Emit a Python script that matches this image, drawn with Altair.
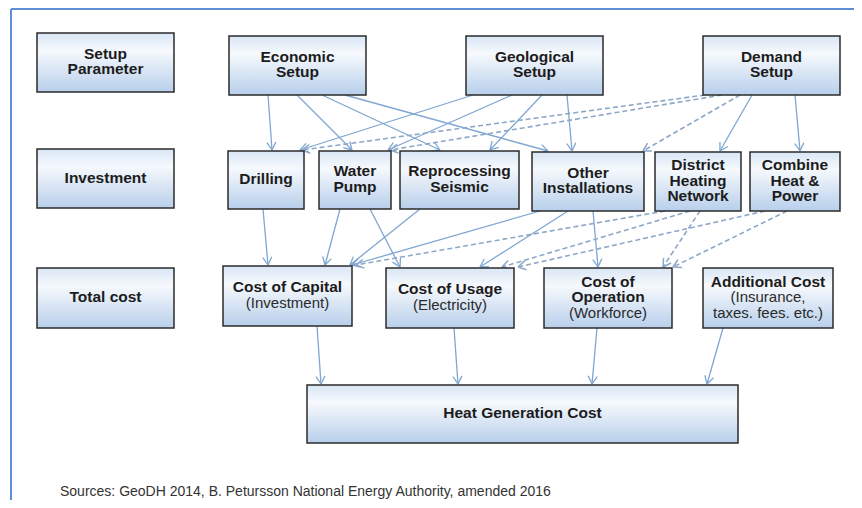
import math
import altair as alt
import pandas as pd

# ---------------- nodes ----------------
node_id = ["setup_param", "econ", "geo", "demand",
           "investment", "drilling", "pump", "seismic", "other", "dhn", "chp",
           "total", "capital", "usage", "operation", "additional",
           "heat"]
node_title = ["Setup|Parameter", "Economic|Setup", "Geological|Setup", "Demand|Setup",
              "Investment", "Drilling", "Water|Pump", "Reprocessing|Seismic",
              "Other|Installations", "District|Heating|Network", "Combine|Heat &|Power",
              "Total cost", "Cost of Capital", "Cost of Usage", "Cost of|Operation",
              "Additional Cost", "Heat Generation Cost"]
node_sub = ["", "", "", "",
            "", "", "", "", "", "", "",
            "", "(Investment)", "(Electricity)", "(Workforce)",
            "(Insurance,|taxes. fees. etc.)", ""]
# layout of the boxes (page pixel grid)
node_x0 = [37, 229, 466, 703, 37, 228, 319, 400, 532, 655, 750, 37, 223, 386, 544, 703, 307]
node_x1 = [174, 366, 603, 840, 174, 304, 391, 519, 644, 741, 840, 174, 352, 514, 672, 833, 738]
node_y0 = [33, 36, 36, 36, 149, 151, 151, 151, 152, 152, 152, 268, 266, 268, 268, 268, 385]
node_y1 = [92, 95, 95, 95, 208, 209, 209, 209, 211, 211, 211, 328, 326, 328, 328, 328, 443]

# ---------------- edges ----------------
edge_src = ["econ", "econ", "econ", "econ",
            "geo", "geo", "geo", "geo",
            "demand", "demand", "demand", "demand", "demand",
            "drilling", "pump", "pump", "seismic",
            "other", "other", "other",
            "dhn", "dhn", "chp", "dhn", "chp",
            "capital", "usage", "operation", "additional"]
edge_dst = ["drilling", "pump", "seismic", "other",
            "drilling", "pump", "seismic", "other",
            "drilling", "pump", "other", "dhn", "chp",
            "capital", "capital", "usage", "capital",
            "capital", "usage", "operation",
            "capital", "usage", "usage", "operation", "operation",
            "heat", "heat", "heat", "heat"]
edge_kind = ["solid", "solid", "solid", "solid",
             "solid", "solid", "solid", "solid",
             "dashed", "dashed", "dashed", "solid", "solid",
             "solid", "solid", "solid", "solid",
             "solid", "solid", "solid",
             "dashed", "dashed", "dashed", "dashed", "dashed",
             "solid", "solid", "solid", "solid"]
# x where the edge leaves the source box / reaches the target box
edge_sx = [268, 297, 322, 345,
           473, 512, 542, 567,
           705, 722, 740, 752, 795,
           263, 340, 370, 420,
           540, 568, 593,
           665, 690, 765, 700, 787,
           317, 454, 597, 723]
edge_tx = [272, 352, 440, 548,
           300, 388, 490, 572,
           302, 390, 643, 720, 800,
           268, 325, 400, 350,
           352, 480, 598,
           356, 502, 518, 663, 673,
           321, 458, 592, 707]

source_text = "Sources: GeoDH 2014, B. Petursson National Energy Authority, amended 2016"

FONT = "Liberation Sans, Arial, sans-serif"
SOLID_C = "#7fa6d2"
DASH_C = "#8ea8c8"

# ---------------- build tables ----------------
idx = {n: i for i, n in enumerate(node_id)}
boxes = pd.DataFrame({"id": node_id, "x0": node_x0, "x1": node_x1,
                      "y0": node_y0, "y1": node_y1})

lines = []
for i, n in enumerate(node_id):
    t = node_title[i].split("|")
    s = node_sub[i].split("|") if node_sub[i] else []
    allines = [(l, "bold") for l in t] + [(l, "normal") for l in s]
    cy = (node_y0[i] + node_y1[i]) / 2 - 1
    k = len(allines)
    for j, (l, w) in enumerate(allines):
        lines.append({"x": (node_x0[i] + node_x1[i]) / 2,
                      "y": cy + (j - (k - 1) / 2) * 15.5,
                      "t": l, "w": w})
labels = pd.DataFrame(lines)

segs = []
L, TH = 9.0, math.radians(30)
for s, d, k, sx, tx in zip(edge_src, edge_dst, edge_kind, edge_sx, edge_tx):
    sy = node_y1[idx[s]]
    ty = node_y0[idx[d]] - 1
    segs.append({"x": sx, "y": sy, "x2": tx, "y2": ty, "kind": k, "part": "line"})
    dx, dy = tx - sx, ty - sy
    ln = math.hypot(dx, dy)
    ux, uy = -dx / ln, -dy / ln
    for sg in (1, -1):
        a = sg * TH
        wx = ux * math.cos(a) - uy * math.sin(a)
        wy = ux * math.sin(a) + uy * math.cos(a)
        segs.append({"x": tx, "y": ty, "x2": tx + L * wx, "y2": ty + L * wy,
                     "kind": k, "part": "head"})
seg = pd.DataFrame(segs)

X = alt.Scale(domain=[8, 854])
Y = alt.Scale(domain=[500, 8])
xq = lambda f: alt.X(f, type="quantitative", scale=X, axis=None)
yq = lambda f: alt.Y(f, type="quantitative", scale=Y, axis=None)

base_seg = alt.Chart(seg)
solid = base_seg.transform_filter("datum.kind == 'solid'").mark_rule(
    color=SOLID_C, strokeWidth=1.3).encode(
    x=xq("x"), y=yq("y"), x2="x2", y2="y2")
dashed = base_seg.transform_filter("datum.kind == 'dashed' && datum.part == 'line'").mark_rule(
    color=DASH_C, strokeWidth=1.6, strokeDash=[5, 3]).encode(
    x=xq("x"), y=yq("y"), x2="x2", y2="y2")
dheads = base_seg.transform_filter("datum.kind == 'dashed' && datum.part == 'head'").mark_rule(
    color=DASH_C, strokeWidth=1.5).encode(
    x=xq("x"), y=yq("y"), x2="x2", y2="y2")

grad = {"gradient": "linear", "x1": 0, "y1": 0, "x2": 0, "y2": 1,
        "stops": [{"offset": 0, "color": "#d9e6f5"},
                  {"offset": 0.3, "color": "#f6f9fd"},
                  {"offset": 1, "color": "#b8cfeb"}]}

shadow = alt.Chart(boxes).mark_rect(fill="#d2d2d2", opacity=0.5, xOffset=2, yOffset=2).encode(
    x=xq("x0"), x2="x1", y=yq("y0"), y2="y1")
rects = alt.Chart(boxes).mark_rect(fill=grad, stroke="#2b2b2b", strokeWidth=1.5).encode(
    x=xq("x0"), x2="x1", y=yq("y0"), y2="y1")

tb = alt.Chart(labels).transform_filter("datum.w == 'bold'").mark_text(
    font=FONT, fontSize=15.5, fontWeight="bold", color="#1c1c1c", baseline="middle").encode(
    x=xq("x"), y=yq("y"), text="t:N")
tn = alt.Chart(labels).transform_filter("datum.w == 'normal'").mark_text(
    font=FONT, fontSize=15, color="#2a2a2a", baseline="middle").encode(
    x=xq("x"), y=yq("y"), text="t:N")

frame_df = pd.DataFrame({"x": [11, 11], "y": [9, 9], "x2": [854, 11], "y2": [9, 500]})
frame = alt.Chart(frame_df).mark_rule(color="#5b8fd6", strokeWidth=2).encode(
    x=xq("x"), y=yq("y"), x2="x2", y2="y2")

src = alt.Chart(pd.DataFrame({"x": [60], "y": [492], "t": [source_text]})).mark_text(
    font=FONT, fontSize=14, color="#333333", align="left", baseline="middle").encode(
    x=xq("x"), y=yq("y"), text="t:N")

chart = alt.layer(frame, solid, dashed, dheads, shadow, rects, tb, tn, src).properties(
    width=846, height=492, padding=0, autosize=alt.AutoSizeParams(type="none"),
    background="white"
).configure_view(stroke=None)

chart.save("out.html", embed_options={"renderer": "svg", "actions": False})
